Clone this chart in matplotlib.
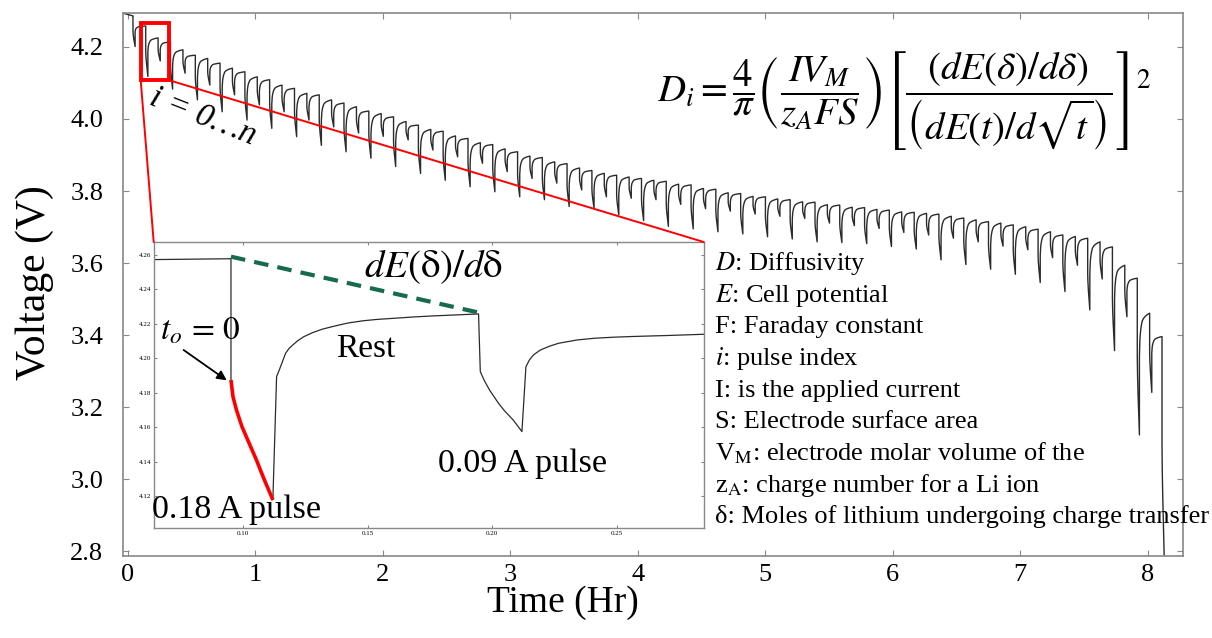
import matplotlib
matplotlib.use('Agg')
import matplotlib.pyplot as plt
from matplotlib.patches import Rectangle, ConnectionPatch

plt.rcParams['font.family'] = ['Liberation Serif', 'DejaVu Serif']
plt.rcParams['mathtext.fontset'] = 'stix'

# ---- main discharge curve ----
# start of the trace
trace_start = (-0.042, 4.294)
# pulse start times (Hr); first entry is the small pulse at the very start
pulse_t = [0.039,
           0.139, 0.236, 0.333, 0.431, 0.528, 0.625, 0.722, 0.819, 0.917, 1.014,
           1.111, 1.208, 1.306, 1.403, 1.500, 1.597, 1.694, 1.792, 1.889, 1.986,
           2.083, 2.181, 2.278, 2.375, 2.472, 2.569, 2.667, 2.764, 2.861, 2.958,
           3.056, 3.153, 3.250, 3.347, 3.444, 3.542, 3.639, 3.736, 3.833, 3.931,
           4.028, 4.125, 4.222, 4.319, 4.417, 4.514, 4.611, 4.708, 4.806, 4.903,
           5.000, 5.097, 5.194, 5.292, 5.389, 5.486, 5.583, 5.681, 5.778, 5.875,
           5.972, 6.069, 6.167, 6.264, 6.361, 6.458, 6.556, 6.653, 6.750, 6.847,
           6.944, 7.042, 7.139, 7.236, 7.333, 7.431, 7.528, 7.625, 7.722, 7.819,
           7.917, 8.014, 8.111]
# rest voltage just before each pulse (V)
rest_v = [4.286,
          4.258, 4.225, 4.214, 4.192, 4.177, 4.168, 4.155, 4.141, 4.131, 4.117,
          4.109, 4.094, 4.085, 4.071, 4.067, 4.053, 4.044, 4.034, 4.022, 4.015,
          4.006, 3.993, 3.983, 3.971, 3.966, 3.953, 3.946, 3.934, 3.929, 3.917,
          3.909, 3.897, 3.893, 3.881, 3.876, 3.864, 3.857, 3.849, 3.844, 3.839,
          3.835, 3.830, 3.827, 3.819, 3.817, 3.807, 3.805, 3.795, 3.793, 3.785,
          3.784, 3.778, 3.776, 3.770, 3.769, 3.762, 3.761, 3.755, 3.754, 3.749,
          3.747, 3.742, 3.741, 3.738, 3.736, 3.730, 3.725, 3.720, 3.715, 3.711,
          3.706, 3.701, 3.694, 3.687, 3.678, 3.674, 3.669, 3.659, 3.645, 3.594,
          3.558, 3.461, 3.396]
# voltage at the end of each pulse (V)
end_v = [4.201,
         4.118, 4.161, 4.083, 4.127, 4.053, 4.094, 4.020, 4.067, 3.997, 4.039,
         3.974, 4.020, 3.951, 3.997, 3.927, 3.978, 3.909, 3.961, 3.891, 3.952,
         3.868, 3.942, 3.849, 3.914, 3.830, 3.895, 3.812, 3.877, 3.798, 3.854,
         3.784, 3.835, 3.776, 3.822, 3.757, 3.803, 3.752, 3.784, 3.734, 3.780,
         3.718, 3.776, 3.702, 3.763, 3.695, 3.751, 3.687, 3.744, 3.681, 3.736,
         3.673, 3.730, 3.667, 3.724, 3.659, 3.711, 3.657, 3.704, 3.654, 3.696,
         3.646, 3.685, 3.639, 3.678, 3.609, 3.669, 3.596, 3.659, 3.583, 3.647,
         3.569, 3.637, 3.546, 3.615, 3.521, 3.594, 3.470, 3.556, 3.357, 3.451,
         3.123, 3.241, 2.790]

# shape of one pulse and of the rest that follows, taken from the inset
pulse_len = 0.0168
ir_frac = 0.5
pulse_shape_t = [0.0, 0.13, 0.35, 0.61, 1.0]
pulse_shape_v = [0.0, 0.24, 0.47, 0.67, 1.0]
relax_shape_t = [0.0, 0.026, 0.044, 0.080, 0.135, 0.225, 0.278, 0.40, 0.585, 0.765, 1.0]
relax_shape_v = [0.0, 0.21, 0.37, 0.50, 0.636, 0.77, 0.82, 0.88, 0.93, 0.967, 1.0]

# ---- inset: first two pulses ----
inset_t = [0.0642, 0.0952, 0.0952, 0.0960, 0.0974, 0.0996, 0.1025, 0.1054, 0.1083,
           0.1120, 0.1135, 0.1145, 0.1156, 0.1171, 0.1185, 0.1200, 0.1220, 0.1244,
           0.1280, 0.1317, 0.1360, 0.1420, 0.1480, 0.1536, 0.1609, 0.1680, 0.1755,
           0.1850, 0.1945,
           0.1952, 0.1967, 0.1989, 0.2025, 0.2047, 0.2084, 0.2119,
           0.2135, 0.2149, 0.2165, 0.2193, 0.2230, 0.2266, 0.2340, 0.2410, 0.2485,
           0.2558, 0.2630, 0.2704, 0.2847]
inset_v = [4.2573, 4.2578, 4.1875, 4.1779, 4.1701, 4.1605, 4.1508, 4.1412, 4.1306,
           4.1180, 4.1895, 4.1930, 4.1972, 4.2030, 4.2058, 4.2078, 4.2103, 4.2126,
           4.2150, 4.2169, 4.2185, 4.2205, 4.2218, 4.2226, 4.2233, 4.2240, 4.2246,
           4.2252, 4.2258,
           4.1924, 4.1875, 4.1817, 4.1740, 4.1700, 4.1643, 4.1576,
           4.1952, 4.1991, 4.2020, 4.2049, 4.2071, 4.2088, 4.2107, 4.2117, 4.2123,
           4.2127, 4.2130, 4.2133, 4.2140]
red_t = [0.0952, 0.0960, 0.0974, 0.0996, 0.1025, 0.1054, 0.1083, 0.1120]
red_v = [4.1875, 4.1779, 4.1701, 4.1605, 4.1508, 4.1412, 4.1306, 4.1180]
slope_t = [0.0952, 0.1945]
slope_v = [4.2590, 4.2266]

legend_lines = ['$D$: Diffusivity',
                '$E$: Cell potential',
                'F: Faraday constant',
                '$i$: pulse index',
                'I: is the applied current',
                'S: Electrode surface area',
                r'V$_\mathrm{M}$: electrode molar volume of the',
                r'z$_\mathrm{A}$: charge number for a Li ion',
                'δ: Moles of lithium undergoing charge transfer']


def build_trace():
    ts, vs = [trace_start[0]], [trace_start[1]]
    n = len(pulse_t)
    for k in range(n):
        t0, top, low = pulse_t[k], rest_v[k], end_v[k]
        drop = top - low
        ir = ir_frac * drop
        ts.append(t0)
        vs.append(top)
        for ft, fv in zip(pulse_shape_t, pulse_shape_v):
            ts.append(t0 + ft * pulse_len)
            vs.append(top - ir - fv * (drop - ir))
        if k + 1 < n:
            t1 = t0 + pulse_len
            v1 = low + ir
            span = pulse_t[k + 1] - t1
            for ft, fv in zip(relax_shape_t, relax_shape_v):
                ts.append(t1 + ft * span)
                vs.append(v1 + fv * (rest_v[k + 1] - v1))
    return ts, vs


W, H = 1212, 638


def fig_xy(x, y):
    return x / W, 1 - y / H


fig = plt.figure(figsize=(W / 100, H / 100), dpi=100)
ax = fig.add_axes([0.1012, 0.1285, 0.8748, 0.8516])

ts, vs = build_trace()
ax.plot(ts, vs, color='#2b2b2b', linewidth=1.0)
ax.set_xlim(-0.042, 8.275)
ax.set_ylim(2.787, 4.295)
ax.set_xticks(range(0, 9))
ax.set_yticks([2.8, 3.0, 3.2, 3.4, 3.6, 3.8, 4.0, 4.2])
ax.set_yticklabels(['2.8', '3.0', '3.2', '3.4', '3.6', '3.8', '4.0', '4.2'])
ax.tick_params(direction='in', length=4, color='#888888', labelsize=19,
               top=True, right=True)
ax.tick_params(axis='y', pad=14)
ax.tick_params(axis='x', pad=6)
for s in ax.spines.values():
    s.set_color('#888888')
    s.set_linewidth(1.2)

xl = ax.set_xlabel('Time (Hr)', fontsize=27)
ax.xaxis.set_label_coords(0.415, -0.085)
xl.set_va('center')
yl = ax.set_ylabel('Voltage (V)', fontsize=30)
ax.yaxis.set_label_coords(-0.083, 0.503)
yl.set_va('center')

# zoom box and the two lines to the inset
rect = Rectangle((0.0996, 4.1074), 0.2244, 0.1582, fill=False,
                 edgecolor='red', linewidth=2.8, zorder=5)
ax.add_patch(rect)

ax.text(*fig_xy(203, 117), 'i = 0…n', transform=fig.transFigure,
        fontsize=24, style='italic', rotation=-21.5, rotation_mode='anchor',
        ha='center', va='center')

# inset
ax_in = fig.add_axes([0.1268, 0.1724, 0.4538, 0.4483])
ax_in.plot(inset_t, inset_v, color='#2b2b2b', linewidth=0.9)
ax_in.plot(red_t, red_v, color='red', linewidth=2.6, solid_capstyle='butt')
ax_in.plot(slope_t, slope_v, color='#156b4b', linewidth=3.0,
           linestyle=(0, (3.5, 2.2)))
ax_in.set_xlim(0.0642, 0.2848)
ax_in.set_ylim(4.1017, 4.2675)
ax_in.set_xticks([0.10, 0.15, 0.20, 0.25])
ax_in.set_yticks([4.12, 4.14, 4.16, 4.18, 4.20, 4.22, 4.24, 4.26])
ax_in.xaxis.set_major_formatter('{x:.2f}')
ax_in.yaxis.set_major_formatter('{x:.2f}')
ax_in.tick_params(direction='in', length=2, color='#888888', labelsize=5,
                  pad=2, top=True, right=True)
for s in ax_in.spines.values():
    s.set_color('#888888')
    s.set_linewidth(1.0)

for xy_in in [(0.0, 1.0), (1.0, 1.0)]:
    xy_main = (0.0996, 4.1074) if xy_in[0] == 0.0 else (0.324, 4.1074)
    con = ConnectionPatch(xyA=xy_main, coordsA=ax.transData,
                          xyB=xy_in, coordsB=ax_in.transAxes,
                          color='red', linewidth=1.4, zorder=6)
    fig.add_artist(con)

ax_in.annotate('', xy=(0.0935, 4.1873), xytext=(0.0762, 4.2049),
               arrowprops=dict(arrowstyle='-|>', color='black', lw=1.3,
                               mutation_scale=14, shrinkA=0, shrinkB=0))

fig.text(*fig_xy(160, 339), r'$t_o\,=\,\mathit{0}$', fontsize=24,
         ha='left', va='baseline')
fig.text(*fig_xy(364, 277), r'$dE(\mathrm{\delta})/d\mathrm{\delta}$',
         fontsize=28, ha='left', va='baseline')
fig.text(*fig_xy(336, 357), 'Rest', fontsize=24, ha='left', va='baseline')
fig.text(*fig_xy(438, 472), '0.09 A pulse', fontsize=24.5, ha='left', va='baseline')
fig.text(*fig_xy(152, 518), '0.18 A pulse', fontsize=24.5, ha='left', va='baseline')

# formula and symbol list
fig.text(*fig_xy(904, 101),
         r'$D_i = \dfrac{4}{\pi}\left(\dfrac{IV_M}{z_AFS}\right)'
         r'\left[\dfrac{(dE(\delta)/d\delta)}{\left(dE(t)/d\sqrt{t}\right)}\right]^2$',
         fontsize=28, ha='center', va='center')

for i, line in enumerate(legend_lines):
    fig.text(*fig_xy(715, 270 + 31.66 * i), line, fontsize=19,
             ha='left', va='baseline')

fig.savefig('out.png', dpi=100)
plt.close(fig)
